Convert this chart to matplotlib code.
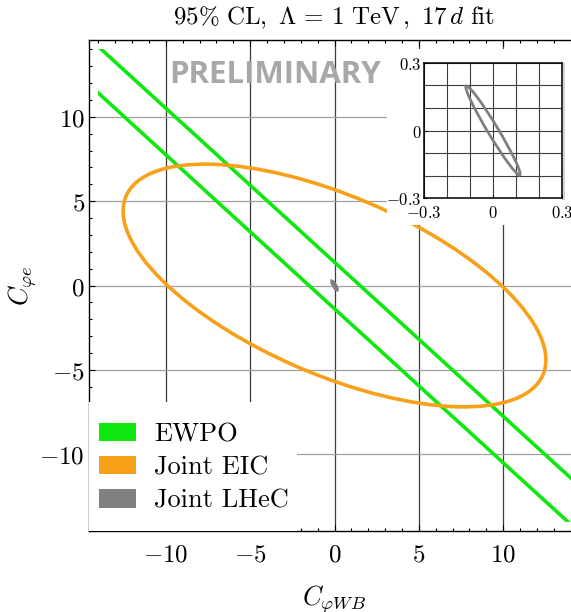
import matplotlib
matplotlib.use("Agg")
import matplotlib.pyplot as plt
from matplotlib.patches import Ellipse, Patch, Rectangle
from matplotlib.ticker import MultipleLocator, FixedLocator

plt.rcParams["mathtext.fontset"] = "cm"

# --- 95% CL contours in the (C_phiWB, C_phie) plane, Lambda = 1 TeV ---
# each contour is an ellipse centred at the origin: full axes + tilt (deg)
LABELS = ["EWPO", "Joint EIC", "Joint LHeC"]
COLORS = ["#0fe80f", "#f7a11a", "#808080"]
CENTER_X = [0.0, 0.0, 0.0]
CENTER_Y = [0.0, 0.0, 0.0]
WIDTH = [400.0, 26.9, 0.46]
HEIGHT = [2.04, 10.6, 0.045]
ANGLE = [-42.4, -23.2, -59.5]

# region in which the contours were evaluated
FIT_RANGE = 14.0
AX_RANGE = 14.56

MAIN_TICKS = [-10, -5, 0, 5, 10]
INSET_TICKS = [-0.3, 0.0, 0.3]
INSET_TICK_LABELS = ["$-0.3$", "$0$", "$0.3$"]

W, H = 571, 612
fig = plt.figure(figsize=(W / 100, H / 100), dpi=100)
ax = fig.add_axes([89 / W, 1 - 531 / H, 491 / W, 491 / H])

ax.set_xlim(-AX_RANGE, AX_RANGE)
ax.set_ylim(-AX_RANGE, AX_RANGE)

ax.xaxis.set_major_locator(FixedLocator(MAIN_TICKS))
ax.yaxis.set_major_locator(FixedLocator(MAIN_TICKS))
ax.xaxis.set_minor_locator(MultipleLocator(1))
ax.yaxis.set_minor_locator(MultipleLocator(1))
ax.set_xticklabels([f"${t}$" for t in MAIN_TICKS])
ax.set_yticklabels([f"${t}$" for t in MAIN_TICKS])
ax.tick_params(which="both", direction="in", top=True, right=True, width=0.8)
ax.tick_params(which="major", length=4, labelsize=18)
ax.tick_params(axis="x", which="major", pad=8)
ax.tick_params(axis="y", which="major", pad=3)
ax.tick_params(which="minor", length=2.2)
for sp in ax.spines.values():
    sp.set_linewidth(1.0)

ax.xaxis.grid(True, color="#3c3c3c", lw=0.9)
ax.yaxis.grid(True, color="#a0a0a0", lw=0.9)
ax.set_axisbelow(True)

clip_box = Rectangle((-FIT_RANGE, -FIT_RANGE), 2 * FIT_RANGE, 2 * FIT_RANGE,
                     transform=ax.transData, fill=False, visible=False)
ax.add_patch(clip_box)

for i in range(len(LABELS)):
    e = Ellipse((CENTER_X[i], CENTER_Y[i]), WIDTH[i], HEIGHT[i], angle=ANGLE[i],
                fill=False, edgecolor=COLORS[i], lw=2.6 if i < 2 else 3.2,
                zorder=3 + i)
    ax.add_patch(e)
    e.set_clip_path(clip_box)

# white panel behind the zoomed inset
ax.add_patch(Rectangle((3.1, 3.57), 12.0, 10.48, facecolor="white",
                       edgecolor="none", zorder=6))

# white panel behind the legend
ax.add_patch(Rectangle((0, 0), 0.4236, 0.2627, transform=ax.transAxes,
                       facecolor="white", edgecolor="none", zorder=6))

ax.text(0.379, 0.9287, "PRELIMINARY", transform=ax.transAxes,
        ha="center", va="center", fontsize=22.5, fontweight="bold",
        family="Open Sans", color="#a8a8a8", zorder=7)

handles = [Patch(facecolor=c, edgecolor="none") for c in COLORS]
leg = ax.legend(handles, LABELS, loc="center left",
                bbox_to_anchor=(0.0204, 0.1293), frameon=False,
                prop={"family": "cmr10", "size": 19},
                handlelength=1.40, handleheight=0.70, handletextpad=0.68,
                labelspacing=0.36, borderpad=0, borderaxespad=0)
leg.set_zorder(8)

ax.set_xlabel(r"$C_{\varphi WB}$", fontsize=19, labelpad=12)
ax.set_ylabel(r"$C_{\varphi e}$", fontsize=19, labelpad=0)

fig.text(334.5 / W, 1 - 18 / H,
         r"$95\%\ \mathrm{CL},\ \Lambda\,=\,1\ \mathrm{TeV}\,,\ 17\,d\ \mathrm{fit}$",
         ha="center", va="center", fontsize=18)

# --- zoom on the LHeC contour ---
fig.add_artist(Rectangle((562 / W, 1 - 200 / H), 3 / W, 137 / H,
                         transform=fig.transFigure, facecolor="#d6d6d6",
                         edgecolor="none", zorder=9))
axin = fig.add_axes([424 / W, 1 - 198 / H, 138 / W, 135 / H], zorder=10)
axin.set_xlim(-0.3, 0.3)
axin.set_ylim(-0.3, 0.3)
axin.xaxis.set_major_locator(FixedLocator(INSET_TICKS))
axin.yaxis.set_major_locator(FixedLocator(INSET_TICKS))
axin.set_xticklabels(INSET_TICK_LABELS)
axin.set_yticklabels(INSET_TICK_LABELS)
axin.xaxis.set_minor_locator(MultipleLocator(0.1))
axin.yaxis.set_minor_locator(MultipleLocator(0.1))
axin.tick_params(which="both", direction="in", labelsize=12, width=0.8)
axin.tick_params(which="major", length=2.5)
axin.tick_params(axis="x", which="major", pad=4)
axin.tick_params(axis="y", which="major", pad=2)
axin.tick_params(which="minor", length=0)
axin.grid(True, which="both", color="#3c3c3c", lw=0.8)
axin.set_axisbelow(True)
for sp in axin.spines.values():
    sp.set_linewidth(1.1)

axin.add_patch(Ellipse((CENTER_X[2], CENTER_Y[2]), WIDTH[2], HEIGHT[2],
                       angle=ANGLE[2], fill=False, edgecolor=COLORS[2],
                       lw=2.0, zorder=3))

fig.savefig("out.png", dpi=100)
plt.close(fig)
